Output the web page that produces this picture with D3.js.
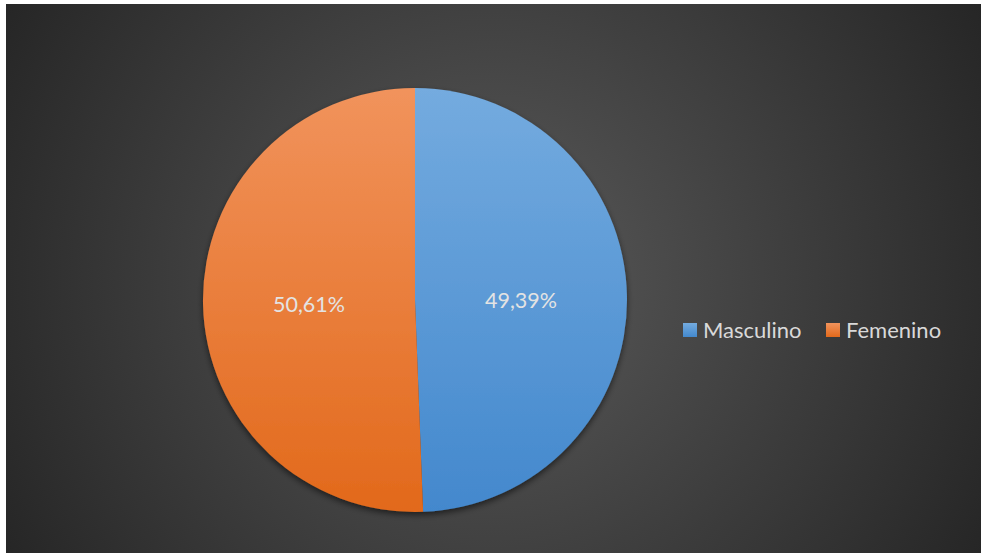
<!DOCTYPE html>
<html><head><meta charset="utf-8">
<script src="https://cdn.jsdelivr.net/npm/d3@7"></script>
<style>html,body{margin:0;padding:0;background:#fff;}svg{display:block;}</style>
</head><body>
<svg id="chart" width="982" height="554"></svg>
<script>
const categories = ["Masculino", "Femenino"];
const values = [49.39, 50.61];
const labels = ["49,39%", "50,61%"];
const colorTop = ["#74abdf", "#f1935c"];
const colorBottom = ["#4388cd", "#e2691b"];

const svg = d3.select("#chart");
const box = {x: 6, y: 4, w: 975, h: 549};
const defs = svg.append("defs");

const bg = defs.append("radialGradient").attr("id", "bg")
  .attr("gradientUnits", "userSpaceOnUse")
  .attr("cx", 493).attr("cy", 280).attr("r", 570);
bg.append("stop").attr("offset", "0").attr("stop-color", "#5a5a5a");
bg.append("stop").attr("offset", "1").attr("stop-color", "#252525");

svg.append("rect").attr("x", box.x).attr("y", box.y).attr("width", box.w).attr("height", box.h)
  .attr("fill", "url(#bg)");

const cx = 415, cy = 300, R = 212;

categories.forEach((c, i) => {
  const g = defs.append("linearGradient").attr("id", "g" + i)
    .attr("gradientUnits", "userSpaceOnUse")
    .attr("x1", 0).attr("y1", -R).attr("x2", 0).attr("y2", R);
  g.append("stop").attr("offset", "0").attr("stop-color", colorTop[i]);
  g.append("stop").attr("offset", "1").attr("stop-color", colorBottom[i]);
});

const sh = defs.append("filter").attr("id", "shadow")
  .attr("x", "-20%").attr("y", "-20%").attr("width", "140%").attr("height", "140%");
sh.append("feGaussianBlur").attr("in", "SourceAlpha").attr("stdDeviation", 3);
sh.append("feOffset").attr("dx", 0).attr("dy", 3).attr("result", "b");
sh.append("feComponentTransfer").append("feFuncA").attr("type", "linear").attr("slope", 0.55);
const m = sh.append("feMerge");
m.append("feMergeNode");
m.append("feMergeNode").attr("in", "SourceGraphic");

const pie = d3.pie().sort(null).value(d => d)(values);
const arc = d3.arc().innerRadius(0).outerRadius(R);
const labelArc = d3.arc().innerRadius(R / 2).outerRadius(R / 2);

const g = svg.append("g").attr("transform", `translate(${cx},${cy})`);
g.append("g").attr("filter", "url(#shadow)")
  .selectAll("path").data(pie).join("path")
  .attr("d", arc)
  .attr("fill", (d, i) => `url(#g${i})`);

g.selectAll("text.lbl").data(pie).join("text").attr("class", "lbl")
  .attr("x", d => labelArc.centroid(d)[0])
  .attr("y", d => labelArc.centroid(d)[1] + 10)
  .attr("text-anchor", "middle")
  .attr("font-family", "Lato, 'Open Sans', sans-serif")
  .attr("font-size", 21.5)
  .attr("fill", "#e3e3e3")
  .text((d, i) => labels[i]);

const legend = svg.append("g");
const lx = [683, 826];
categories.forEach((c, i) => {
  const lg = defs.append("linearGradient").attr("id", "lg" + i)
    .attr("x1", 0).attr("y1", 0).attr("x2", 0).attr("y2", 1);
  lg.append("stop").attr("offset", "0").attr("stop-color", colorTop[i]);
  lg.append("stop").attr("offset", "1").attr("stop-color", colorBottom[i]);
  legend.append("rect").attr("x", lx[i]).attr("y", 323).attr("width", 14).attr("height", 14)
    .attr("fill", `url(#lg${i})`);
  legend.append("text").attr("x", lx[i] + 20).attr("y", 337.5)
    .attr("font-family", "Lato, 'Open Sans', sans-serif")
    .attr("font-size", 22)
    .attr("fill", "#d9d9d9")
    .text(c);
});
</script>
</body></html>
